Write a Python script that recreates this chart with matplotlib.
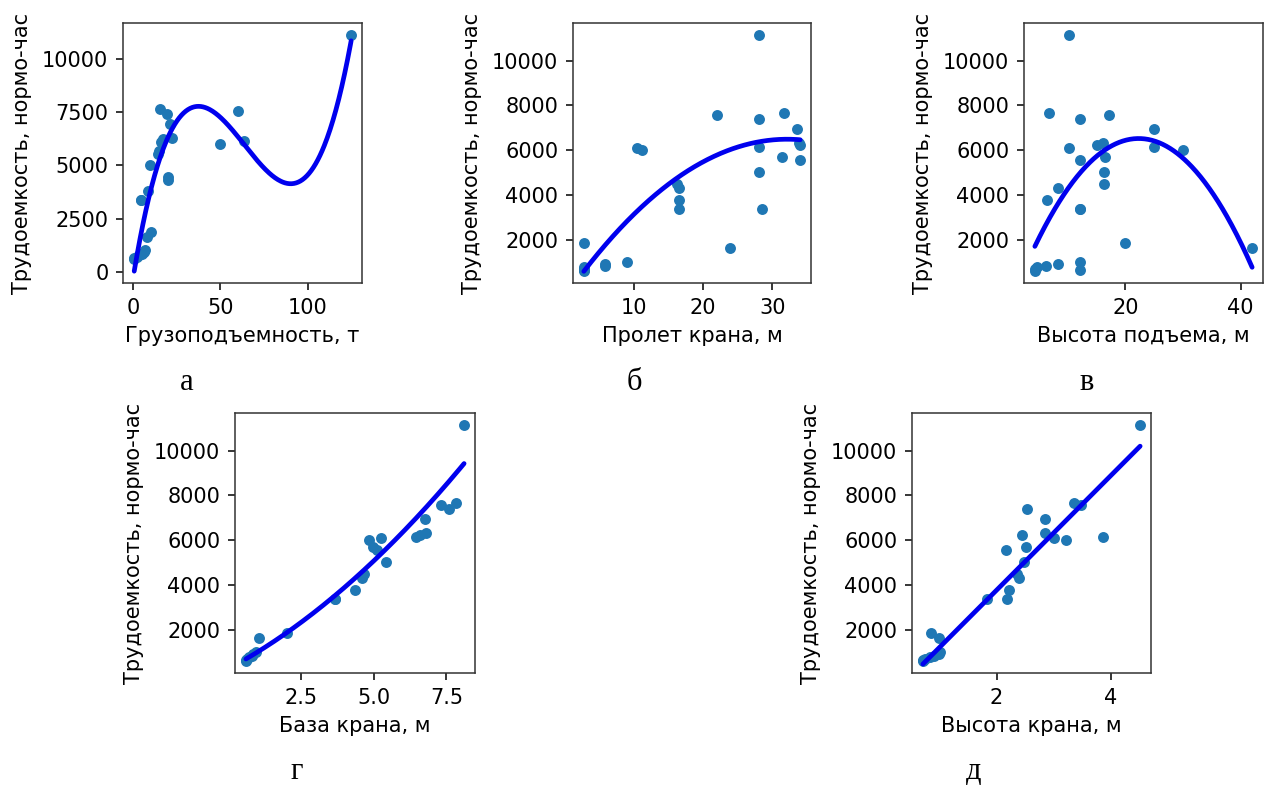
import numpy as np
import matplotlib
matplotlib.use("Agg")
import matplotlib.pyplot as plt
from matplotlib.ticker import MultipleLocator

# shared response: labour intensity (norm-hours)
labour = [11150, 7640, 7560, 7400, 6960, 6300, 6250, 6150, 6100, 6000,
          5680, 5560, 5030, 4480, 4300, 3780, 3390, 3390, 1870, 1650,
          1000, 930, 850, 780, 700, 650, 600]
# predictors
capacity = [125, 15.4, 60, 19.3, 21.2, 22.0, 17.0, 63.5, 16.0, 50.0,
            15.0, 14.0, 9.6, 20.0, 20.0, 8.7, 4.2, 4.2, 10.0, 8.0,
            6.5, 6.0, 5.0, 3.5, 2.0, 0.5, 0.3]
span = [28.0, 31.6, 22.0, 28.0, 33.5, 33.8, 34.0, 28.0, 10.4, 11.2,
        31.4, 34.0, 28.0, 16.2, 16.5, 16.5, 16.5, 28.5, 2.8, 23.9,
        9.0, 5.9, 5.9, 2.8, 2.8, 2.8, 2.8]
lift = [10.3, 6.7, 17.2, 12.1, 25.0, 16.2, 15.0, 25.0, 10.2, 30.0,
        16.4, 12.2, 16.3, 16.3, 8.3, 6.4, 12.1, 12.1, 20.0, 42.0,
        12.1, 8.3, 6.3, 4.6, 4.3, 12.1, 4.3]
base = [8.11, 7.82, 7.30, 7.59, 6.75, 6.80, 6.60, 6.45, 5.24, 4.83,
        4.98, 5.10, 5.41, 4.66, 4.60, 4.37, 3.68, 3.68, 2.02, 1.04,
        0.95, 0.85, 0.80, 0.70, 0.65, 0.60, 0.61]
height = [4.51, 3.36, 3.48, 2.53, 2.84, 2.84, 2.45, 3.86, 3.00, 3.22,
          2.51, 2.16, 2.48, 2.36, 2.39, 2.22, 2.19, 1.84, 0.86, 1.00,
          1.01, 1.00, 0.90, 0.84, 0.75, 0.72, 0.71]

# trend curves (x, y) and their polynomial degree
trend_a_x = [0.5, 4.8, 8.7, 13.5, 19.3, 26, 36.7, 48.3, 59.8, 71.4, 81.1,
             89.8, 98.5, 108.1, 115.8, 121.6, 125]
trend_a_y = [40, 1824, 3396, 4968, 6382, 7247, 7671, 7325, 6382, 5203, 4417,
             4103, 4496, 5754, 7483, 9212, 11000]
trend_b_x = [2.8, 6.16, 10, 12.9, 15.8, 20.1, 24.4, 28.7, 31.6, 34.0]
trend_b_y = [702, 1821, 3015, 3910, 4657, 5552, 6149, 6448, 6522, 6373]
trend_c_x = [4.3, 6.86, 9.77, 12.67, 16.16, 19.65, 22.56, 25.47, 29.53, 33.6, 37.67, 42.0]
trend_c_y = [1448, 3015, 4358, 5254, 6000, 6448, 6567, 6448, 5701, 4358, 2716, 1149]
trend_d_x = [0.6, 1.33, 2.48, 3.63, 4.78, 5.93, 7.07, 8.11]
trend_d_y = [700, 1224, 2418, 3463, 4806, 6224, 7866, 9433]
trend_e_x = [0.71, 1.13, 2.89, 4.51]
trend_e_y = [640, 1522, 5701, 10400]
degrees = [3, 2, 2, 2, 1]

xlabels = ["Грузоподъемность, т", "Пролет крана, м", "Высота подъема, м",
           "База крана, м", "Высота крана, м"]
letters = ["а", "б", "в", "г", "д"]
ylabel = "Трудоемкость, нормо-час"

W, H = 1273, 787
plt.rcParams['font.family'] = ['DejaVu Sans']
fig = plt.figure(figsize=(W / 100, H / 100), dpi=100)

# axes boxes in pixels: left, right, top, bottom
boxes = [(123, 362, 23, 283), (573, 811, 23, 283), (1024, 1263, 23, 283),
         (235, 475, 413, 673), (912, 1151, 413, 673)]
letter_pos = [(187, 390), (634, 390), (1087, 390), (297, 779), (974, 779)]
xsteps = [50, 10, 20, 2.5, 2]
ysteps = [2500, 2000, 2000, 2000, 2000]

preds = [capacity, span, lift, base, height]
trends = [(trend_a_x, trend_a_y), (trend_b_x, trend_b_y), (trend_c_x, trend_c_y),
          (trend_d_x, trend_d_y), (trend_e_x, trend_e_y)]
y = np.array(labour, dtype=float)
for i in range(5):
    l, r, t, b = boxes[i]
    ax = fig.add_axes([l / W, 1 - b / H, (r - l) / W, (b - t) / H])
    x = np.array(preds[i], dtype=float)
    ax.scatter(x, y, s=62, color='#1f77b4', zorder=2, linewidths=0)
    tx = np.array(trends[i][0], dtype=float)
    ty = np.array(trends[i][1], dtype=float)
    coef = np.polyfit(tx, ty, degrees[i])
    xx = np.linspace(tx.min(), tx.max(), 300)
    ax.plot(xx, np.polyval(coef, xx), color='#0000ee', lw=3.4, zorder=3,
            solid_capstyle='round')
    if i > 0:
        rng = y.max() - y.min()
        ax.set_ylim(y.min() - 0.05 * rng, y.max() + 0.05 * rng)
    ax.xaxis.set_major_locator(MultipleLocator(xsteps[i]))
    ax.yaxis.set_major_locator(MultipleLocator(ysteps[i]))
    ax.tick_params(labelsize=15, length=5, width=1.1, pad=5.5)
    for sp in ax.spines.values():
        sp.set_linewidth(1.1)
        sp.set_color('#333333')
    ax.set_xlabel(xlabels[i], fontsize=15, labelpad=6)
    ax.set_ylabel(ylabel, fontsize=15, labelpad=7)
    lx, ly = letter_pos[i]
    fig.text(lx / W, 1 - ly / H, letters[i], fontsize=22,
             family='Liberation Serif', ha='center', va='baseline')

fig.savefig("out.png", dpi=100)
